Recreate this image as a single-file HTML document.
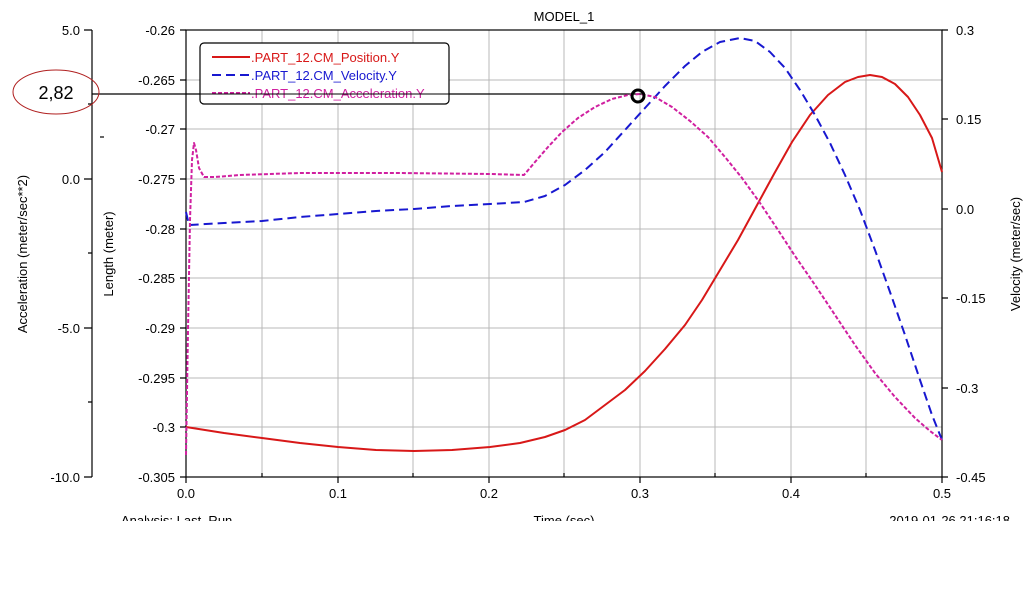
<!DOCTYPE html><html><head><style>body{margin:0;background:#fff}svg{display:block}text{font-family:"Liberation Sans",sans-serif;font-size:13px;fill:#000}</style></head><body>
<svg width="1026" height="612" viewBox="0 0 1026 612">
<rect width="1026" height="612" fill="#fff"/>
<g stroke="#b8b8b8" stroke-width="1">
<line x1="262" y1="30" x2="262" y2="477"/><line x1="338" y1="30" x2="338" y2="477"/><line x1="413" y1="30" x2="413" y2="477"/><line x1="489" y1="30" x2="489" y2="477"/><line x1="564" y1="30" x2="564" y2="477"/><line x1="640" y1="30" x2="640" y2="477"/><line x1="715" y1="30" x2="715" y2="477"/><line x1="791" y1="30" x2="791" y2="477"/><line x1="866" y1="30" x2="866" y2="477"/>
<line x1="186" y1="80" x2="942" y2="80"/><line x1="186" y1="129" x2="942" y2="129"/><line x1="186" y1="179" x2="942" y2="179"/><line x1="186" y1="229" x2="942" y2="229"/><line x1="186" y1="278" x2="942" y2="278"/><line x1="186" y1="328" x2="942" y2="328"/><line x1="186" y1="378" x2="942" y2="378"/><line x1="186" y1="427" x2="942" y2="427"/>
</g>
<g stroke="#000" stroke-width="1.2" fill="none">
<rect x="186" y="30" width="756" height="447"/>
<line x1="92" y1="30" x2="92" y2="477"/>
<path d="M84 30H92M84 179H92M84 328H92M84 477H92M88 104H92M88 253H92M88 402H92"/>
<path d="M180 30H186M180 80H186M180 129H186M180 179H186M180 229H186M180 278H186M180 328H186M180 378H186M180 427H186M180 477H186"/>
<path d="M942 30H948M942 119H948M942 209H948M942 298H948M942 388H948M942 477H948"/>
<path d="M186 477V483M262 477V473M338 477V483M413 477V473M489 477V483M564 477V473M640 477V483M715 477V473M791 477V483M866 477V473M942 477V483"/>
<line x1="100" y1="137" x2="104" y2="137"/>
<line x1="92" y1="94" x2="642" y2="94"/>
</g>
<g font-size="13">
<text x="80" y="35" text-anchor="end">5.0</text><text x="80" y="184" text-anchor="end">0.0</text><text x="80" y="333" text-anchor="end">-5.0</text><text x="80" y="482" text-anchor="end">-10.0</text>
<text x="175" y="35" text-anchor="end">-0.26</text><text x="175" y="85" text-anchor="end">-0.265</text><text x="175" y="134" text-anchor="end">-0.27</text><text x="175" y="184" text-anchor="end">-0.275</text><text x="175" y="234" text-anchor="end">-0.28</text><text x="175" y="283" text-anchor="end">-0.285</text><text x="175" y="333" text-anchor="end">-0.29</text><text x="175" y="383" text-anchor="end">-0.295</text><text x="175" y="432" text-anchor="end">-0.3</text><text x="175" y="482" text-anchor="end">-0.305</text>
<text x="956" y="35">0.3</text><text x="956" y="124">0.15</text><text x="956" y="214">0.0</text><text x="956" y="303">-0.15</text><text x="956" y="393">-0.3</text><text x="956" y="482">-0.45</text>
<text x="186" y="498" text-anchor="middle">0.0</text><text x="338" y="498" text-anchor="middle">0.1</text><text x="489" y="498" text-anchor="middle">0.2</text><text x="640" y="498" text-anchor="middle">0.3</text><text x="791" y="498" text-anchor="middle">0.4</text><text x="942" y="498" text-anchor="middle">0.5</text>
<text x="564" y="525" text-anchor="middle">Time (sec)</text>
<text x="564" y="21" text-anchor="middle">MODEL_1</text>
<text x="121" y="525">Analysis: Last_Run</text>
<text x="1010" y="525" text-anchor="end">2019-01-26 21:16:18</text>
<text transform="translate(27,254) rotate(-90)" text-anchor="middle">Acceleration (meter/sec**2)</text>
<text transform="translate(113,254) rotate(-90)" text-anchor="middle">Length (meter)</text>
<text transform="translate(1020,254) rotate(-90)" text-anchor="middle">Velocity (meter/sec)</text>
</g>
<rect x="0" y="521" width="1026" height="91" fill="#fff"/>
<g fill="none" stroke-width="2" stroke-linejoin="round">
<polyline stroke="#d81818" points="186,427 224,433 262,438 300,443 338,447 376,450 414,451 452,450 490,447 520,443 545,437 565,430 585,420 605,405 625,390 645,371 665,349 685,325 702,300 720,270 738,240 756,207 774,174 792,142 810,115 828,95 845,82 858,77 870,75 882,77 895,84 908,97 920,115 932,138 942,172"/>
<polyline stroke="#1818d0" stroke-dasharray="9,5" points="186,212 189,225 224,223 262,221 300,217 338,214 376,211 414,209 452,206 490,204 524,202 545,196 565,185 585,170 605,152 625,130 645,108 665,86 685,66 702,52 720,42 740,38 755,41 770,52 785,68 800,90 815,115 830,143 845,175 860,210 875,250 890,292 905,335 920,380 932,415 942,440"/>
<polyline stroke="#d020a0" stroke-dasharray="4,2" points="186,455 188,330 190,220 192,160 194,143 196,150 199,168 204,177 215,177 240,175 300,173 400,173 490,174 524,175 535,162 548,147 562,132 578,118 595,107 612,99 628,95 640,94 655,97 672,107 690,121 708,137 725,157 742,178 760,203 778,230 795,256 815,285 835,315 855,345 875,373 895,397 915,418 930,431 942,440"/>
</g>
<circle cx="638" cy="96" r="6" fill="none" stroke="#000" stroke-width="3"/>
<rect x="200" y="43" width="249" height="61" rx="4" fill="#fff" stroke="#000" stroke-width="1.2"/>
<line x1="212" y1="57" x2="250" y2="57" stroke="#d81818" stroke-width="2"/>
<line x1="212" y1="75" x2="250" y2="75" stroke="#1818d0" stroke-width="2" stroke-dasharray="9,5"/>
<line x1="212" y1="93" x2="250" y2="93" stroke="#d020a0" stroke-width="2" stroke-dasharray="4,2"/>
<text x="251" y="62" style="fill:#d81818">.PART_12.CM_Position.Y</text>
<text x="251" y="80" style="fill:#1818d0">.PART_12.CM_Velocity.Y</text>
<text x="251" y="98" style="fill:#d020a0">.PART_12.CM_Acceleration.Y</text>
<line x1="200" y1="94" x2="449" y2="94" stroke="#000" stroke-width="1"/>
<ellipse cx="56" cy="92" rx="43" ry="22" fill="none" stroke="#b02020" stroke-width="1"/>
<text x="56" y="99" text-anchor="middle" style="font-size:18px">2,82</text>
</svg></body></html>
